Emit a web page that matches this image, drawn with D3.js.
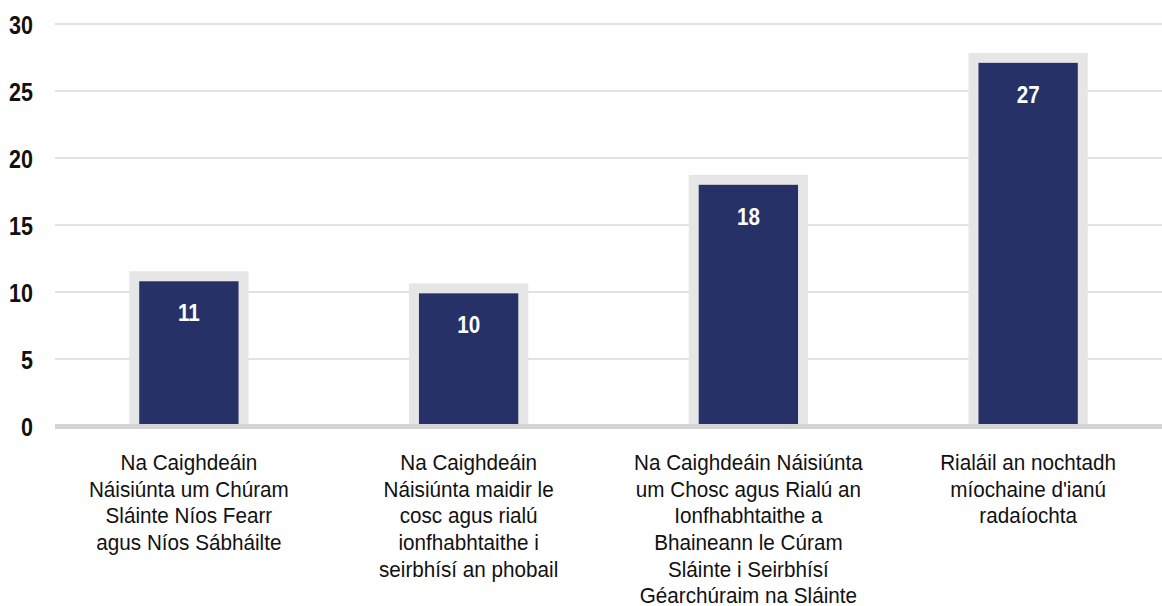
<!DOCTYPE html>
<html>
<head>
<meta charset="utf-8">
<script src="https://cdn.jsdelivr.net/npm/d3@7"></script>
<style>
  body { margin: 0; background: #fff; }
  svg { display: block; }
  text { font-family: "Liberation Sans", Arial, sans-serif; }
</style>
</head>
<body>
<svg id="chart" width="1162" height="606"></svg>
<script>
// data
var categories = [
  "Na Caighdeáin Náisiúnta um Chúram Sláinte Níos Fearr agus Níos Sábháilte",
  "Na Caighdeáin Náisiúnta maidir le cosc agus rialú ionfhabhtaithe i seirbhísí an phobail",
  "Na Caighdeáin Náisiúnta um Chosc agus Rialú an Ionfhabhtaithe a Bhaineann le Cúram Sláinte i Seirbhísí Géarchúraim na Sláinte",
  "Rialáil an nochtadh míochaine d'ianú radaíochta"
];
var categoryLines = [
  ["Na Caighdeáin", "Náisiúnta um Chúram", "Sláinte Níos Fearr", "agus Níos Sábháilte"],
  ["Na Caighdeáin", "Náisiúnta maidir le", "cosc agus rialú", "ionfhabhtaithe i", "seirbhísí an phobail"],
  ["Na Caighdeáin Náisiúnta", "um Chosc agus Rialú an", "Ionfhabhtaithe a", "Bhaineann le Cúram", "Sláinte i Seirbhísí", "Géarchúraim na Sláinte"],
  ["Rialáil an nochtadh", "míochaine d'ianú", "radaíochta"]
];
var values = [10.8, 9.9, 18, 27.1];
var valueLabels = ["11", "10", "18", "27"];
var yTicks = [0, 5, 10, 15, 20, 25, 30];

var svg = d3.select("#chart");
var width = 1162;
// no condensed font installed, so squeeze Liberation Sans horizontally
var narrowBold = 0.86, narrowReg = 0.94;

var x = d3.scaleBand()
  .domain(categories)
  .range([49, 1168])
  .paddingInner(0.645)
  .paddingOuter(0.3225);

var y = d3.scaleLinear()
  .domain([0, 30])
  .range([426, 24]);

// gridlines
svg.append("g")
  .selectAll("line")
  .data(yTicks.filter(function(d){ return d > 0; }))
  .join("line")
  .attr("x1", 55).attr("x2", width)
  .attr("y1", function(d){ return y(d); })
  .attr("y2", function(d){ return y(d); })
  .attr("stroke", "#d9d9d9")
  .attr("stroke-width", 1.5);

// y axis labels
var yAxis = d3.axisLeft(y).tickValues(yTicks).tickSize(0).tickPadding(0);
var gy = svg.append("g").attr("transform", "translate(33,0)").call(yAxis);
gy.select(".domain").remove();
gy.selectAll("text")
  .attr("font-family", null)
  .attr("font-size", 25)
  .attr("font-weight", "bold")
  .attr("fill", "#111")
  .attr("dy", "0.36em")
  .attr("transform", "scale(" + narrowBold + ",1)");

// bars: gray frame then navy fill
var border = 10;
svg.append("g")
  .selectAll("rect")
  .data(values)
  .join("rect")
  .attr("x", function(d, i){ return x(categories[i]) - border; })
  .attr("y", function(d){ return y(d) - border; })
  .attr("width", x.bandwidth() + 2 * border)
  .attr("height", function(d){ return y(0) - y(d) + border; })
  .attr("fill", "#e6e6e6");

svg.append("g")
  .selectAll("rect")
  .data(values)
  .join("rect")
  .attr("x", function(d, i){ return x(categories[i]); })
  .attr("y", function(d){ return y(d); })
  .attr("width", x.bandwidth())
  .attr("height", function(d){ return y(0) - y(d); })
  .attr("fill", "#263167");

// baseline
svg.append("line")
  .attr("x1", 55).attr("x2", width)
  .attr("y1", y(0) + 0.5).attr("y2", y(0) + 0.5)
  .attr("stroke", "#d4d4d4")
  .attr("stroke-width", 5);

// value labels
svg.append("g")
  .selectAll("text")
  .data(values)
  .join("text")
  .attr("transform", function(d, i){
    return "translate(" + (x(categories[i]) + x.bandwidth() / 2) + "," + (y(d) + 40) + ") scale(" + narrowBold + ",1)";
  })
  .attr("text-anchor", "middle")
  .attr("font-size", 24)
  .attr("font-weight", "bold")
  .attr("fill", "#fff")
  .text(function(d, i){ return valueLabels[i]; });

// category labels
var cat = svg.append("g")
  .selectAll("text")
  .data(categories)
  .join("text")
  .attr("transform", function(d){
    return "translate(" + (x(d) + x.bandwidth() / 2) + ",470) scale(" + narrowReg + ",1)";
  })
  .attr("text-anchor", "middle")
  .attr("font-size", 22)
  .attr("fill", "#111");

cat.selectAll("tspan")
  .data(function(d, i){ return categoryLines[i]; })
  .join("tspan")
  .attr("x", 0)
  .attr("dy", function(d, i){ return i === 0 ? 0 : 26.7; })
  .text(function(d){ return d; });
</script>
</body>
</html>
